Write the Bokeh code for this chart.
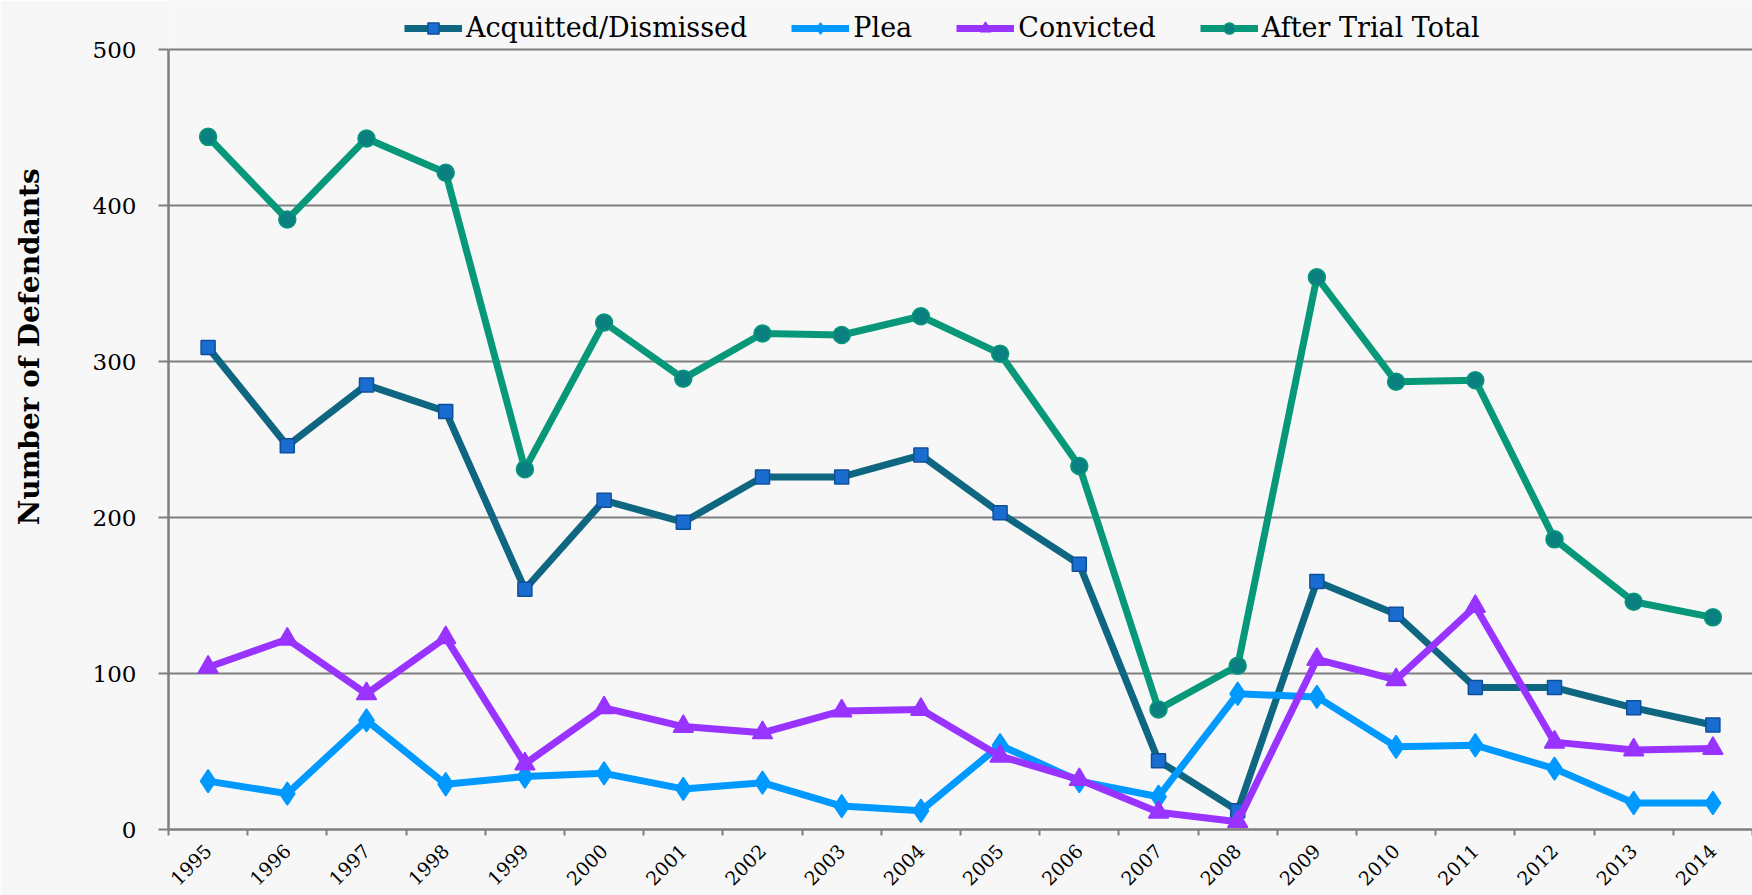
import math
from bokeh.plotting import figure
from bokeh.models import Range1d, FixedTicker, Legend, LegendItem
from bokeh.embed import file_html
from bokeh.resources import INLINE

years = [1995, 1996, 1997, 1998, 1999, 2000, 2001, 2002, 2003, 2004,
         2005, 2006, 2007, 2008, 2009, 2010, 2011, 2012, 2013, 2014]
acquitted = [309, 246, 285, 268, 154, 211, 197, 226, 226, 240,
             203, 170, 44, 12, 159, 138, 91, 91, 78, 67]
plea = [31, 23, 70, 29, 34, 36, 26, 30, 15, 12,
        54, 31, 21, 87, 85, 53, 54, 39, 17, 17]
convicted = [104, 122, 87, 123, 42, 78, 66, 62, 76, 77,
             47, 32, 11, 5, 109, 96, 143, 56, 51, 52]
after_trial = [444, 391, 443, 421, 231, 325, 289, 318, 317, 329,
               305, 233, 77, 105, 354, 287, 288, 186, 146, 136]
y_ticks = [0, 100, 200, 300, 400, 500]
y_title = "Number of Defendants"

FONT = "DejaVu Serif"
BG = "#f7f7f7"
GRID = "#7f7f7f"

W, H = 1752, 895
LEFT, BOTTOM = 168, 66
AXIS_TOP_PX = 49            # pixel row of the 500 line
Y_MAX = y_ticks[-1]
frame_h = H - BOTTOM
# extend the y range above 500 so the legend strip sits inside the frame (not clipped)
y_end = Y_MAX * frame_h / (frame_h - AXIS_TOP_PX)

p = figure(width=W, height=H, output_backend="svg", toolbar_location=None,
           x_range=Range1d(years[0] - 0.5, years[-1] + 0.5), y_range=Range1d(0, y_end),
           min_border_left=LEFT, min_border_right=0, min_border_top=0, min_border_bottom=BOTTOM)
p.background_fill_color = BG
p.border_fill_color = BG
p.outline_line_color = None

# grid
p.xgrid.grid_line_color = None
p.ygrid.grid_line_color = GRID
p.ygrid.grid_line_width = 1.8
p.ygrid.ticker = FixedTicker(ticks=y_ticks)

# x axis
boundaries = [y - 0.5 for y in years] + [years[-1] + 0.5]
p.xaxis.ticker = FixedTicker(ticks=years, minor_ticks=boundaries)
p.xaxis.major_label_overrides = {y: str(y) for y in years}
p.xaxis.major_tick_out = 0
p.xaxis.major_tick_in = 0
p.xaxis.minor_tick_out = 6
p.xaxis.minor_tick_in = 0
p.xaxis.minor_tick_line_color = GRID
p.xaxis.minor_tick_line_width = 2
p.xaxis.axis_line_color = GRID
p.xaxis.axis_line_width = 2.5
p.xaxis.major_label_orientation = math.pi / 4
p.xaxis.major_label_text_font = FONT
p.xaxis.major_label_text_font_size = "19px"
p.xaxis.major_label_text_color = "#000000"
p.xaxis.major_label_standoff = 12

# y axis
p.yaxis.bounds = (0, Y_MAX)
p.yaxis.ticker = FixedTicker(ticks=y_ticks)
p.yaxis.major_tick_out = 10
p.yaxis.major_tick_in = 0
p.yaxis.minor_tick_out = 0
p.yaxis.minor_tick_in = 0
p.yaxis.major_tick_line_color = GRID
p.yaxis.major_tick_line_width = 2
p.yaxis.axis_line_color = GRID
p.yaxis.axis_line_width = 2.5
p.yaxis.major_label_text_font = FONT
p.yaxis.major_label_text_font_size = "23px"
p.yaxis.major_label_text_color = "#000000"
p.yaxis.major_label_standoff = 22
# leading no-break spaces lift the title above the axis centre, as in the source
p.yaxis.axis_label = "\u00a0" * 14 + y_title
p.yaxis.axis_label_text_font = FONT
p.yaxis.axis_label_text_font_size = "28px"
p.yaxis.axis_label_text_font_style = "bold"
p.yaxis.axis_label_text_color = "#000000"
p.yaxis.axis_label_standoff = 44

series = [
    ("Acquitted/Dismissed", acquitted, "#0e6680", "square", "#1a6dd0", "#0f4f9a", 14),
    ("Plea", plea, "#0099ff", "diamond", "#0099ff", "#0099ff", 23),
    ("Convicted", convicted, "#9933ff", "triangle", "#9933ff", "#9933ff", 20),
    ("After Trial Total", after_trial, "#07987a", "circle", "#0a8080", "#07987a", 17),
]

items = []
for name, vals, lc, marker, fc, mlc, size in series:
    ln = p.line(years, vals, line_color=lc, line_width=7, line_join="round")
    sc = p.scatter(years, vals, marker=marker, size=size,
                   fill_color=fc, line_color=mlc, line_width=1.5)
    items.append(LegendItem(label=name, renderers=[ln, sc]))

legend = Legend(items=items, orientation="horizontal", location=(236, 786),
                label_text_font=FONT, label_text_font_size="27px", label_text_color="#000000",
                glyph_width=58, glyph_height=28, label_standoff=4, spacing=44,
                padding=0, margin=0, border_line_alpha=0, background_fill_alpha=0,
                label_height=28)
p.add_layout(legend, "center")

open("out.html", "w").write(file_html(p, INLINE))
